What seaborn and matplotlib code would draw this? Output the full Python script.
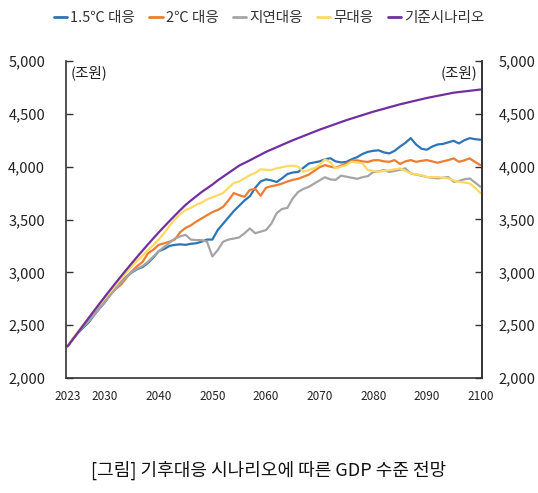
import numpy as np
import pandas as pd
import matplotlib
matplotlib.use("Agg")
import matplotlib.pyplot as plt
import seaborn as sns
from matplotlib.lines import Line2D

years = list(range(2023, 2101))

base = [2300, 2368, 2436, 2504, 2572, 2640, 2707, 2773, 2838, 2902,
        2965, 3027, 3088, 3148, 3207, 3265, 3322, 3378, 3432, 3485,
        3537, 3588, 3638, 3680, 3720, 3760, 3795, 3830, 3870, 3905,
        3940, 3975, 4010, 4035, 4060, 4087, 4113, 4140, 4162, 4184,
        4206, 4228, 4250, 4270, 4290, 4310, 4330, 4350, 4368, 4386,
        4404, 4422, 4440, 4456, 4472, 4488, 4504, 4520, 4534, 4548,
        4562, 4576, 4590, 4602, 4614, 4626, 4638, 4650, 4660, 4670,
        4680, 4690, 4700, 4706, 4712, 4718, 4724, 4730]

s15 = [2300, 2370, 2430, 2480, 2530, 2600, 2660, 2720, 2790, 2850,
       2910, 2960, 3000, 3030, 3050, 3090, 3140, 3200, 3220, 3250,
       3260, 3265, 3260, 3270, 3275, 3290, 3310, 3310, 3400, 3460,
       3520, 3580, 3630, 3680, 3720, 3800, 3860, 3880, 3870, 3855,
       3890, 3930, 3945, 3950, 3990, 4030, 4040, 4050, 4070, 4080,
       4050, 4040, 4045, 4070, 4090, 4120, 4140, 4150, 4155, 4135,
       4125, 4150, 4190, 4225, 4270, 4210, 4170, 4160, 4190, 4210,
       4215, 4230, 4245, 4220, 4250, 4270, 4260, 4255]

s20 = [2300, 2370, 2435, 2495, 2545, 2610, 2670, 2730, 2790, 2845,
       2885, 2950, 3010, 3060, 3100, 3180, 3215, 3260, 3275, 3290,
       3310, 3380, 3420, 3445, 3480, 3510, 3540, 3570, 3590, 3620,
       3680, 3750, 3730, 3715, 3780, 3790, 3725, 3800, 3815, 3825,
       3840, 3860, 3875, 3885, 3905, 3925, 3960, 3995, 4015, 4000,
       3990, 4010, 4030, 4055, 4060, 4050, 4045, 4060, 4062, 4050,
       4046, 4062, 4025, 4050, 4062, 4046, 4055, 4062, 4050, 4037,
       4050, 4062, 4078, 4046, 4060, 4078, 4045, 4015]

delay = [2300, 2370, 2435, 2490, 2540, 2605, 2665, 2725, 2790, 2850,
         2905, 2960, 3005, 3035, 3060, 3100, 3150, 3200, 3240, 3280,
         3320, 3340, 3355, 3310, 3305, 3305, 3290, 3150, 3210, 3290,
         3310, 3320, 3330, 3370, 3415, 3370, 3385, 3400, 3460, 3560,
         3600, 3610, 3700, 3760, 3790, 3810, 3840, 3870, 3900, 3880,
         3875, 3915, 3905, 3895, 3885, 3900, 3910, 3950, 3955, 3968,
         3950, 3960, 3970, 3984, 3936, 3925, 3915, 3902, 3895, 3889,
         3895, 3902, 3857, 3865, 3880, 3889, 3850, 3810]

none = [2300, 2375, 2445, 2510, 2575, 2640, 2700, 2760, 2820, 2880,
        2940, 3000, 3060, 3110, 3160, 3210, 3260, 3310, 3370, 3440,
        3500, 3550, 3590, 3610, 3640, 3660, 3690, 3710, 3730, 3750,
        3800, 3845, 3860, 3890, 3920, 3940, 3975, 3970, 3968, 3985,
        3995, 4005, 4010, 4000, 3952, 3970, 3984, 4015, 4070, 4040,
        3984, 4000, 4015, 4046, 4040, 4031, 3968, 3960, 3952, 3960,
        3968, 3975, 3984, 3960, 3936, 3928, 3920, 3902, 3900, 3902,
        3895, 3889, 3870, 3857, 3850, 3842, 3800, 3750]

labels = ["1.5\u2103 대응", "2\u2103 대응", "지연대응", "무대응", "기준시나리오"]
colors = ["#2E75B6", "#ED7D31", "#A5A5A5", "#FFD966", "#7030A0"]
xticks = [2023, 2030, 2040, 2050, 2060, 2070, 2080, 2090, 2100]
yticks = [2000, 2500, 3000, 3500, 4000, 4500, 5000]

frames = []
for lab, vals in zip(labels, [s15, s20, delay, none, base]):
    frames.append(pd.DataFrame({"year": years, "value": vals, "series": lab}))
df = pd.concat(frames, ignore_index=True)

sns.set_theme(style="white")
plt.rcParams["font.family"] = ["Noto Sans CJK KR", "DejaVu Sans"]

fig = plt.figure(figsize=(5.38, 4.93), dpi=100)
ax = fig.add_axes([66/538, 1-378/493, (482-66)/538, (378-61)/493])

sns.lineplot(data=df, x="year", y="value", hue="series", hue_order=labels,
             palette=dict(zip(labels, colors)), linewidth=1.6, ax=ax,
             legend=False)

ax.set_xlim(2022.7, 2100.3)
ax.set_ylim(2000, 5000)
ax.set_xticks(xticks)
ax.set_xticklabels([str(t) for t in xticks], fontsize=8.5, color="#222222")
ax.set_yticks(yticks)
ax.set_yticklabels([f"{t:,}" for t in yticks], fontsize=10.5, color="#222222")
ax.set_xlabel("")
ax.set_ylabel("")
ax.tick_params(axis="y", direction="in", length=5, width=1,
               left=True, right=False, labelleft=True, labelright=False,
               pad=15, color="#333333")
ax.tick_params(axis="x", length=0, pad=9)
for side in ["left", "right", "bottom"]:
    ax.spines[side].set_visible(True)
    ax.spines[side].set_color("#333333")
    ax.spines[side].set_linewidth(1.2)
ax.spines["top"].set_visible(False)

ax2 = ax.twinx()
ax2.set_ylim(2000, 5000)
ax2.set_yticks(yticks)
ax2.set_yticklabels([f"{t:,}" for t in yticks], fontsize=10.5, color="#222222")
ax2.tick_params(axis="y", direction="in", length=5, width=1, right=True,
                labelright=True, pad=12, color="#333333")
for side in ["left", "top", "bottom"]:
    ax2.spines[side].set_visible(False)
ax2.spines["right"].set_color("#333333")
ax2.spines["right"].set_linewidth(1.2)
ax2.grid(False)

ax.text(0.01, 0.985, "(조원)", transform=ax.transAxes, ha="left", va="top",
        fontsize=10.5, color="#222222")
ax.text(0.99, 0.985, "(조원)", transform=ax.transAxes, ha="right", va="top",
        fontsize=10.5, color="#222222")

handles = [Line2D([0], [0], color=c, lw=2) for c in colors]
fig.legend(handles, labels, loc="center", bbox_to_anchor=(0.5, 1-18/493),
           ncol=5, frameon=False, fontsize=10.5, handlelength=0.9,
           handletextpad=0.2, columnspacing=1.0, labelcolor="#333333")

fig.text(0.5, 1-470/493, "[그림] 기후대응 시나리오에 따른 GDP 수준 전망",
         ha="center", va="center", fontsize=13, color="#111111")

fig.savefig("out.png", dpi=100)
